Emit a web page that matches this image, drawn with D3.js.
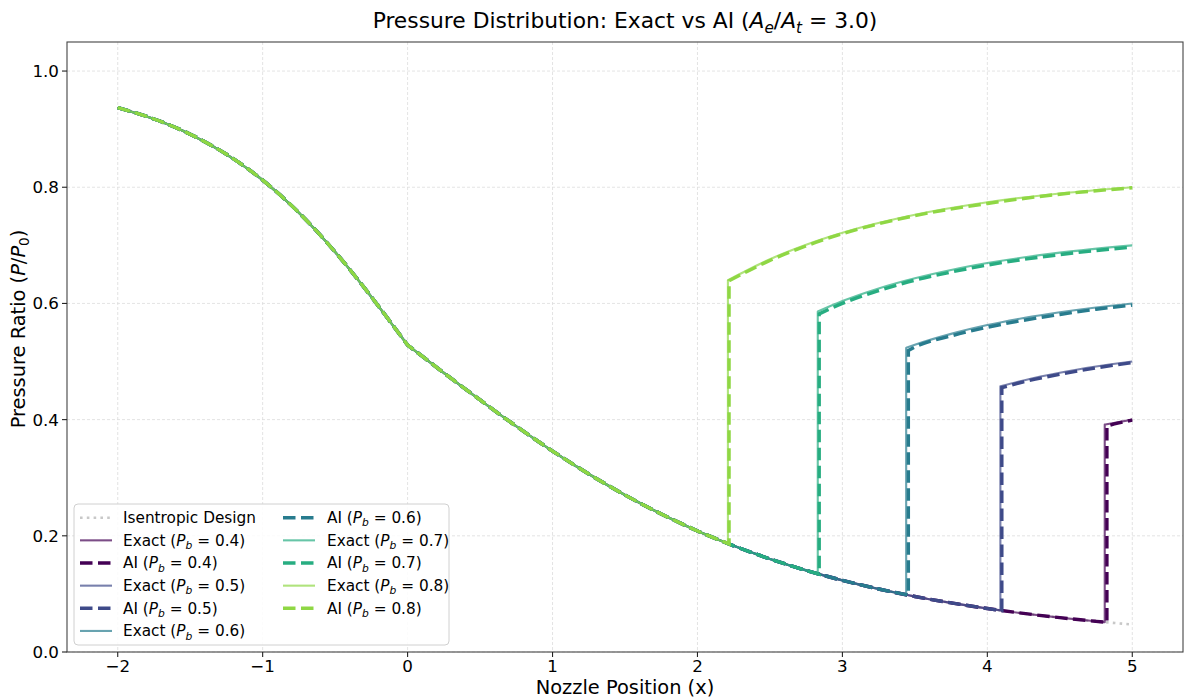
<!DOCTYPE html>
<html><head><meta charset="utf-8">
<script src="https://cdn.jsdelivr.net/npm/d3@7"></script>
<style>body{margin:0;background:#fff} text{font-family:"DejaVu Sans",sans-serif;fill:#000}</style>
</head><body><svg id="c" width="1184" height="700"></svg>
<script>
// ---- data ----
const isenX = [-2,-1.75,-1.5,-1.25,-1,-0.75,-0.5,-0.25,-0.125,0,0.125,0.25,0.5,0.75,1,1.25,1.5,1.75,2,2.25,2.5,2.75,3,3.25,3.5,3.75,4,4.25,4.5,4.75,5];
const isenP = [0.937,0.9175,0.8913,0.8567,0.8122,0.7562,0.6886,0.6114,0.5701,0.5283,0.5044,0.4805,0.4338,0.3886,0.3459,0.3064,0.2702,0.2376,0.2084,0.1828,0.1602,0.1405,0.1233,0.1085,0.0956,0.0845,0.0748,0.0664,0.0591,0.0528,0.0473];
const backPressures = [0.4,0.5,0.6,0.7,0.8];
const exactShockX = [4.81,4.09,3.44,2.83,2.21];
const exactPreP   = [0.0513,0.0716,0.0986,0.1349,0.1867];
const exactPostX = [
  [4.81,4.9,5],
  [4.09,4.25,4.5,4.75,5],
  [3.44,3.5,3.75,4,4.25,4.5,4.75,5],
  [2.83,3,3.25,3.5,3.75,4,4.5,5],
  [2.21,2.35,2.5,2.75,3,3.5,4,4.5,5]];
const exactPostP = [
  [0.3915,0.3956,0.400],
  [0.4573,0.4675,0.4807,0.4913,0.500],
  [0.5235,0.5288,0.5476,0.5627,0.5748,0.5848,0.5931,0.600],
  [0.586,0.6041,0.6259,0.6434,0.6577,0.6695,0.6874,0.700],
  [0.640,0.658,0.6761,0.7011,0.7217,0.7526,0.7741,0.7893,0.800]];
const aiShockX = [4.825,4.10,3.455,2.84,2.218];
const aiPreP   = [0.0510,0.0712,0.0980,0.1340,0.1860];
const aiPostX = [
  [4.825,4.9,5],
  [4.10,4.25,4.5,4.75,5],
  [3.455,3.5,3.75,4,4.25,4.5,4.75,5],
  [2.84,3,3.25,3.5,3.75,4,4.5,5],
  [2.218,2.35,2.5,2.75,3,3.5,4,4.5,5]];
const aiPostP = [
  [0.389,0.394,0.399],
  [0.455,0.465,0.478,0.489,0.498],
  [0.519,0.525,0.544,0.559,0.571,0.581,0.590,0.597],
  [0.582,0.600,0.622,0.640,0.654,0.666,0.684,0.697],
  [0.639,0.656,0.674,0.699,0.720,0.751,0.772,0.788,0.799]];
const seriesColors = ['#440154','#3e4a89','#287c8e','#27ad81','#8fd744'];
const xTicks = [-2,-1,0,1,2,3,4,5];
const yTicks = [0,0.2,0.4,0.6,0.8,1.0];

// ---- layout ----
const svg = d3.select('#c');
const L = 67, R = 1183, T = 42, B = 652;
const x = d3.scaleLinear().domain([-2.35,5.35]).range([L,R]);
const y = d3.scaleLinear().domain([0,1.05]).range([B,T]);

const clipId='clp';
svg.append('defs').append('clipPath').attr('id',clipId).append('rect')
  .attr('x',L).attr('y',T).attr('width',R-L).attr('height',B-T);

// grid
const g = svg.append('g');
g.selectAll('.gx').data(xTicks).enter().append('line')
  .attr('x1',d=>x(d)).attr('x2',d=>x(d)).attr('y1',T).attr('y2',B)
  .attr('stroke','#dcdcdc').attr('stroke-width',0.8).attr('stroke-dasharray','3,2');
g.selectAll('.gy').data(yTicks).enter().append('line')
  .attr('y1',d=>y(d)).attr('y2',d=>y(d)).attr('x1',L).attr('x2',R)
  .attr('stroke','#dcdcdc').attr('stroke-width',0.8).attr('stroke-dasharray','3,2');

// lines
const lineGen = d3.line().x(d=>x(d[0])).y(d=>y(d[1])).curve(d3.curveMonotoneX);
function joinPaths(segs){
  return segs.map((s,i)=>{const p=lineGen(s); return i===0?p:'L'+p.slice(1);}).join('');
}
const isenPts = isenX.map((v,i)=>[v,isenP[i]]);
const conv = isenPts.filter(d=>d[0]<=0);
function divUpTo(sx,pre){ return isenPts.filter(d=>d[0]>=0 && d[0]<sx-1e-6).concat([[sx,pre]]); }

const plot = svg.append('g').attr('clip-path',`url(#${clipId})`);
plot.append('path').attr('d',joinPaths([conv,isenPts.filter(d=>d[0]>=0)]))
  .attr('fill','none').attr('stroke','#c8c8c8').attr('stroke-width',2.6)
  .attr('stroke-dasharray','2.6,4.2');

backPressures.forEach((pb,i)=>{
  const ex = joinPaths([conv, divUpTo(exactShockX[i],exactPreP[i]), exactPostX[i].map((v,j)=>[v,exactPostP[i][j]])]);
  plot.append('path').attr('d',ex).attr('fill','none').attr('stroke',seriesColors[i])
    .attr('stroke-opacity',0.7).attr('stroke-width',2.1).attr('stroke-linejoin','round');
  const ai = joinPaths([conv, divUpTo(aiShockX[i],aiPreP[i]), aiPostX[i].map((v,j)=>[v,aiPostP[i][j]])]);
  plot.append('path').attr('d',ai).attr('fill','none').attr('stroke',seriesColors[i])
    .attr('stroke-width',3.4).attr('stroke-dasharray','12.5,5.5');
});

// axes frame
svg.append('rect').attr('x',L).attr('y',T).attr('width',R-L).attr('height',B-T)
  .attr('fill','none').attr('stroke','#444').attr('stroke-width',1.1);

// ticks
svg.selectAll('.tx').data(xTicks).enter().append('line')
  .attr('x1',d=>x(d)).attr('x2',d=>x(d)).attr('y1',B).attr('y2',B+5)
  .attr('stroke','#222').attr('stroke-width',1.1);
svg.selectAll('.txl').data(xTicks).enter().append('text')
  .attr('x',d=>x(d)).attr('y',672).attr('text-anchor','middle').attr('font-size','16.7px')
  .text(d=>d<0?'\u2212'+Math.abs(d):String(d));
svg.selectAll('.ty').data(yTicks).enter().append('line')
  .attr('y1',d=>y(d)).attr('y2',d=>y(d)).attr('x1',L-5).attr('x2',L)
  .attr('stroke','#222').attr('stroke-width',1.1);
svg.selectAll('.tyl').data(yTicks).enter().append('text')
  .attr('x',59).attr('y',d=>y(d)).attr('dy','0.36em').attr('text-anchor','end').attr('font-size','16.7px')
  .text(d=>d.toFixed(1));

// rich text helper
function rich(sel, parts, fs){
  let shift=0;
  parts.forEach(p=>{
    const t = sel.append('tspan').text(p.t);
    if(p.i) t.attr('font-style','italic');
    if(p.sub){ t.attr('font-size',(fs*0.7)+'px'); const s=fs*0.22; t.attr('dy',s-shift); shift=s; }
    else if(shift){ t.attr('dy',-shift); shift=0; }
  });
}

// title
const title = svg.append('text').attr('x',(L+R)/2).attr('y',28).attr('text-anchor','middle').attr('font-size','21.8px');
rich(title,[{t:'Pressure Distribution: Exact vs AI ('},{t:'A',i:1},{t:'e',i:1,sub:1},{t:'/'},{t:'A',i:1},{t:'t',i:1,sub:1},{t:' = 3.0)'}],21.8);

// axis labels
svg.append('text').attr('x',(L+R)/2).attr('y',694).attr('text-anchor','middle').attr('font-size','19.4px').text('Nozzle Position (x)');
const yl = svg.append('text').attr('transform','translate(25,329) rotate(-90)').attr('text-anchor','middle').attr('font-size','19.4px');
rich(yl,[{t:'Pressure Ratio ('},{t:'P',i:1},{t:'/'},{t:'P',i:1},{t:'0',sub:1},{t:')'}],19.4);

// legend
const lg = svg.append('g');
lg.append('rect').attr('x',74).attr('y',504).attr('width',375).attr('height',141).attr('rx',4)
  .attr('fill','#fff').attr('fill-opacity',0.85).attr('stroke','#d0d0d0').attr('stroke-width',1);
const entries = [{type:'isen',label:[{t:'Isentropic Design'}]}];
backPressures.forEach((pb,i)=>{
  entries.push({type:'exact',c:seriesColors[i],label:[{t:'Exact ('},{t:'P',i:1},{t:'b',i:1,sub:1},{t:' = '+pb.toFixed(1)+')'}]});
  entries.push({type:'ai',c:seriesColors[i],label:[{t:'AI ('},{t:'P',i:1},{t:'b',i:1,sub:1},{t:' = '+pb.toFixed(1)+')'}]});
});
entries.forEach((e,k)=>{
  const col = k<6?0:1, row = k<6?k:k-6;
  const sx = col===0?80:283, tx = col===0?123:327;
  const cy = 517.7 + row*22.65;
  const ln = lg.append('line').attr('x1',sx).attr('x2',sx+32).attr('y1',cy).attr('y2',cy);
  if(e.type==='isen') ln.attr('stroke','#c8c8c8').attr('stroke-width',2.6).attr('stroke-dasharray','2.6,4.2');
  else if(e.type==='exact') ln.attr('stroke',e.c).attr('stroke-opacity',0.7).attr('stroke-width',2.1);
  else ln.attr('stroke',e.c).attr('stroke-width',3.4).attr('stroke-dasharray','12.5,5.5');
  const t = lg.append('text').attr('x',tx).attr('y',cy+5.4).attr('font-size','15.3px');
  rich(t,e.label,15.3);
});
</script>
</body></html>
